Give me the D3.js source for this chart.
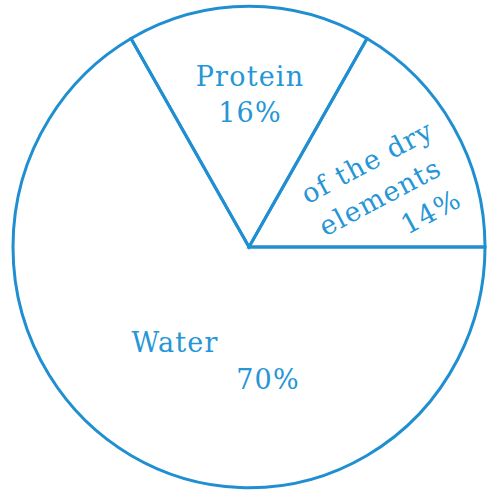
<!DOCTYPE html>
<html>
<head>
<meta charset="utf-8">
<script src="https://cdn.jsdelivr.net/npm/d3@7"></script>
<style>
  body { margin: 0; background: #fff; }
  text { font-family: "DejaVu Serif", serif; fill: #2596d6; }
</style>
</head>
<body>
<div id="chart"></div>
<script>
// slices, counter-clockwise from 3 o'clock as drawn
var categories = ['of the dry elements', 'Protein', 'Water'];
var percentLabels = ['14%', '16%', '70%'];
// share of the circle each wedge covers in the drawing (degrees)
var sliceDegrees = [60, 60, 240];

var width = 488;
var height = 493;
var cx = 249, cy = 247;
var radius = 236;
var blue = '#1f8fd2';

var svg = d3.select('#chart')
    .append('svg')
    .attr('width', width)
    .attr('height', height);

var g = svg.append('g')
    .attr('transform', 'translate(' + cx + ',' + cy + ') scale(1,1.02)');

var dataset = [];
for (var i = 0; i < categories.length; i++) {
    dataset.push({ label: categories[i], pct: percentLabels[i], count: sliceDegrees[i] });
}

// start at 3 o'clock and go counter-clockwise
var pie = d3.pie()
    .value(function(d) { return d.count; })
    .sort(null)
    .startAngle(Math.PI / 2)
    .endAngle(Math.PI / 2 - 2 * Math.PI);

var arc = d3.arc()
    .innerRadius(0)
    .outerRadius(radius);

g.selectAll('path')
    .data(pie(dataset))
    .enter()
    .append('path')
    .attr('d', arc)
    .attr('fill', 'none')
    .attr('stroke', blue)
    .attr('stroke-width', 3)
    .attr('stroke-linejoin', 'miter');

// label layout (text lines, centre, rotation)
var labelLayout = {
    'Protein': { lines: ['Protein', '16%'], x: 250, y: 77, rot: 0, gap: 36 },
    'Water': { lines: ['Water', '70%'], x: 175, y: 343, rot: 0, gap: 37, shift: [0, 93] },
    'of the dry elements': { lines: ['of the dry', 'elements', '14%'], x: 367, y: 162, rot: -28, gap: 37, shift: [0, -5, 33] }
};

dataset.forEach(function(d) {
    var lay = labelLayout[d.label];
    var t = svg.append('g')
        .attr('transform', 'translate(' + lay.x + ',' + lay.y + ') rotate(' + lay.rot + ')');
    t.selectAll('text')
        .data(lay.lines)
        .enter()
        .append('text')
        .attr('x', function(s, j) { return lay.shift ? lay.shift[j] : 0; })
        .attr('y', function(s, j) { return j * lay.gap; })
        .attr('dy', '0.35em')
        .attr('text-anchor', 'middle')
        .style('font-size', '27px')
        .style('letter-spacing', '1.2px')
        .text(function(s) { return s; });
});
</script>
</body>
</html>
